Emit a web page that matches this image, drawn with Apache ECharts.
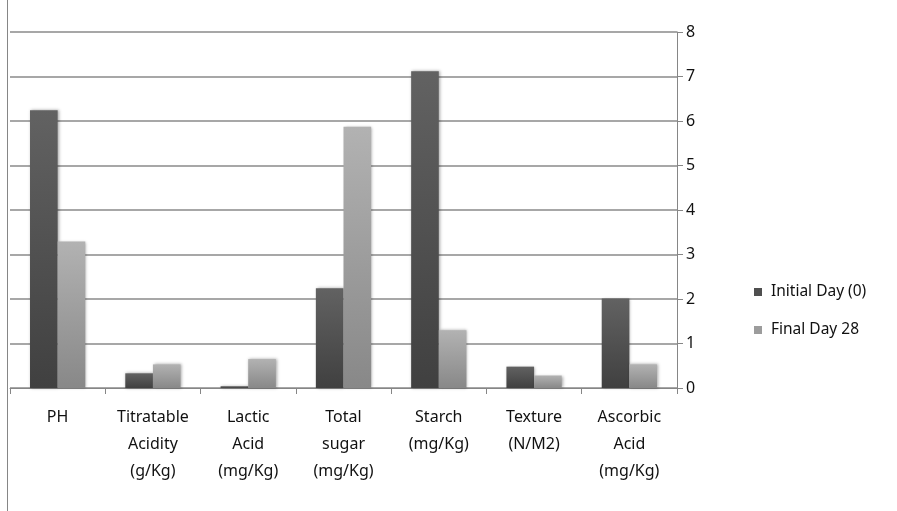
<!DOCTYPE html>
<html>
<head>
<meta charset="utf-8">
<script src="https://cdn.jsdelivr.net/npm/echarts@6/dist/echarts.min.js"></script>
<style>html,body{margin:0;padding:0;background:#fff}#c{width:897px;height:511px}</style>
</head>
<body>
<div id="c"></div>
<script>
const categories = ["PH", "Titratable\nAcidity\n(g/Kg)", "Lactic\nAcid\n(mg/Kg)", "Total\nsugar\n(mg/Kg)", "Starch\n(mg/Kg)", "Texture\n(N/M2)", "Ascorbic\nAcid\n(mg/Kg)"];
const initialDay = [6.24, 0.33, 0.04, 2.24, 7.12, 0.48, 2.01];
const finalDay28 = [3.29, 0.53, 0.65, 5.87, 1.30, 0.28, 0.53];
const seriesNames = ["Initial Day (0)", "Final Day 28"];
const yTicks = [0, 8, 1];

const chart = echarts.init(document.getElementById('c'), null, {renderer: 'canvas'});
const font = "'Noto Sans', 'Open Sans', sans-serif";
function grad(top, bottom) {
  return new echarts.graphic.LinearGradient(0, 0, 0, 1, [{offset: 0, color: top}, {offset: 1, color: bottom}]);
}
chart.setOption({
  animation: false,
  backgroundColor: '#ffffff',
  grid: {left: 10, right: 220, top: 32, bottom: 123},
  legend: {
    orient: 'vertical', left: 749, top: 279, itemWidth: 8, itemHeight: 8, itemGap: 22,
    textStyle: {fontFamily: font, fontSize: 15.5, color: '#111', padding: [0, 0, 0, 4]},
    data: [
      {name: seriesNames[0], icon: 'rect', itemStyle: {color: '#4f4f4f'}},
      {name: seriesNames[1], icon: 'rect', itemStyle: {color: '#9c9c9c'}}
    ]
  },
  xAxis: {
    type: 'category', data: categories,
    axisLine: {show: true, lineStyle: {color: '#868686', width: 1}},
    axisTick: {show: true, length: 6, lineStyle: {color: '#868686'}},
    axisLabel: {interval: 0, fontFamily: font, fontSize: 16, color: '#111', lineHeight: 27, margin: 16}
  },
  yAxis: {
    type: 'value', position: 'right', min: yTicks[0], max: yTicks[1], interval: yTicks[2],
    axisLine: {show: true, lineStyle: {color: '#868686', width: 1}},
    axisTick: {show: true, length: 6, lineStyle: {color: '#868686'}},
    axisLabel: {fontFamily: font, fontSize: 16, color: '#111', margin: 9},
    splitLine: {show: true, lineStyle: {color: '#8a8a8a', width: 1.5}}
  },
  series: [
    {name: seriesNames[0], type: 'bar', data: initialDay, barGap: '0%', barCategoryGap: '42%',
     itemStyle: {color: grad('#626262', '#404040'), shadowBlur: 3, shadowColor: 'rgba(0,0,0,0.35)', shadowOffsetX: 1, shadowOffsetY: 0}},
    {name: seriesNames[1], type: 'bar', data: finalDay28, barGap: '0%', barCategoryGap: '42%',
     itemStyle: {color: grad('#b2b2b2', '#888888'), shadowBlur: 3, shadowColor: 'rgba(0,0,0,0.35)', shadowOffsetX: 1, shadowOffsetY: 0}}
  ],
  graphic: [
    {type: 'line', shape: {x1: 7.5, y1: 0, x2: 7.5, y2: 511}, style: {stroke: '#868686', lineWidth: 1}}
  ]
});
</script>
</body>
</html>
